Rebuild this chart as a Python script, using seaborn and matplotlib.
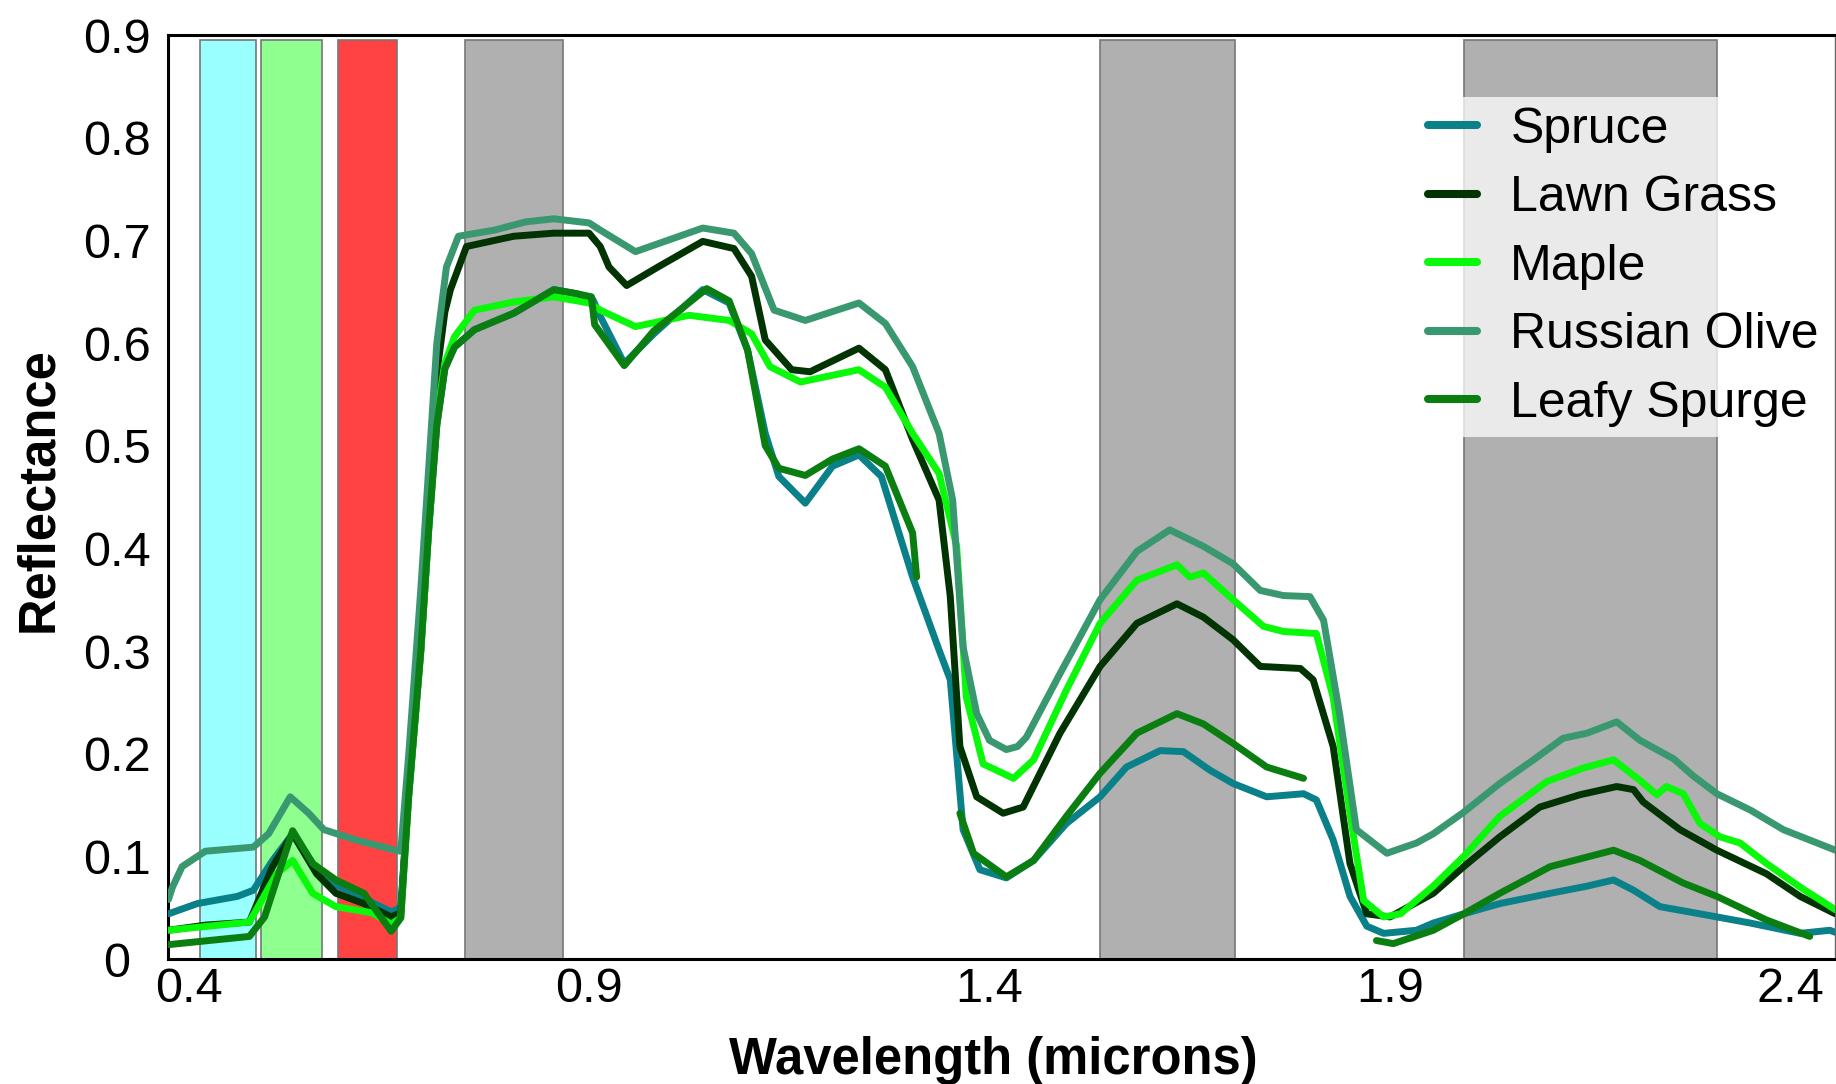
import numpy as np
import pandas as pd
import matplotlib
matplotlib.use("Agg")
import matplotlib.pyplot as plt
import seaborn as sns

# Spektren (Wellenlaenge in Mikrometer, Reflexion)
species = ["Spruce", "Lawn Grass", "Maple", "Russian Olive", "Leafy Spurge"]
colors = ["#0A8088", "#023302", "#0AF80A", "#3A9870", "#0A7E10"]

spruce_wl = [0.375, 0.411, 0.461, 0.481, 0.505, 0.530, 0.555, 0.569, 0.599, 0.624, 0.653,
             0.665, 0.675, 0.690, 0.700, 0.710, 0.720, 0.732, 0.757, 0.806, 0.856, 0.885,
             0.905, 0.914, 0.944, 0.981, 1.042, 1.075, 1.098, 1.120, 1.137, 1.170, 1.204,
             1.237, 1.265, 1.304, 1.337, 1.351, 1.367, 1.388, 1.421, 1.455, 1.496, 1.538,
             1.571, 1.613, 1.642, 1.675, 1.704, 1.746, 1.792, 1.808, 1.829, 1.850, 1.871,
             1.892, 1.933, 1.954, 1.992, 2.037, 2.100, 2.146, 2.179, 2.204, 2.237, 2.287,
             2.350, 2.412, 2.449, 2.456]
spruce_r = [0.044, 0.054, 0.061, 0.067, 0.096, 0.122, 0.093, 0.077, 0.067, 0.057, 0.046,
            0.050, 0.160, 0.300, 0.420, 0.520, 0.575, 0.596, 0.613, 0.629, 0.652, 0.648,
            0.642, 0.626, 0.580, 0.609, 0.652, 0.639, 0.593, 0.512, 0.470, 0.444, 0.480,
            0.491, 0.470, 0.372, 0.301, 0.272, 0.126, 0.087, 0.079, 0.096, 0.132, 0.158,
            0.187, 0.203, 0.202, 0.184, 0.171, 0.158, 0.161, 0.155, 0.116, 0.061, 0.032,
            0.025, 0.028, 0.035, 0.044, 0.054, 0.064, 0.071, 0.077, 0.067, 0.051, 0.044,
            0.035, 0.025, 0.028, 0.026]

lawn_wl = [0.375, 0.421, 0.476, 0.505, 0.530, 0.560, 0.584, 0.619, 0.653, 0.665, 0.675,
           0.690, 0.700, 0.710, 0.720, 0.727, 0.747, 0.806, 0.856, 0.900, 0.914, 0.925,
           0.947, 0.986, 1.042, 1.081, 1.103, 1.120, 1.153, 1.176, 1.237, 1.270, 1.304,
           1.337, 1.351, 1.363, 1.384, 1.417, 1.442, 1.488, 1.538, 1.584, 1.634, 1.667,
           1.704, 1.738, 1.788, 1.804, 1.829, 1.850, 1.871, 1.900, 1.954, 1.992, 2.037,
           2.087, 2.137, 2.183, 2.204, 2.216, 2.262, 2.308, 2.370, 2.412, 2.456]
lawn_r = [0.028, 0.033, 0.036, 0.090, 0.122, 0.083, 0.064, 0.054, 0.041, 0.045, 0.170,
          0.330, 0.460, 0.570, 0.630, 0.652, 0.694, 0.704, 0.707, 0.707, 0.694, 0.674,
          0.656, 0.674, 0.699, 0.692, 0.665, 0.603, 0.574, 0.572, 0.595, 0.574, 0.506,
          0.447, 0.353, 0.207, 0.158, 0.142, 0.148, 0.220, 0.285, 0.327, 0.346, 0.333,
          0.311, 0.285, 0.283, 0.272, 0.207, 0.093, 0.044, 0.041, 0.064, 0.090, 0.119,
          0.148, 0.160, 0.168, 0.165, 0.153, 0.126, 0.106, 0.083, 0.061, 0.044]

maple_wl = [0.375, 0.476, 0.510, 0.530, 0.555, 0.584, 0.629, 0.653, 0.665, 0.675, 0.690,
            0.700, 0.710, 0.720, 0.732, 0.757, 0.806, 0.856, 0.900, 0.914, 0.958, 1.025,
            1.075, 1.103, 1.126, 1.164, 1.237, 1.270, 1.304, 1.337, 1.359, 1.371, 1.392,
            1.430, 1.455, 1.496, 1.538, 1.584, 1.634, 1.650, 1.667, 1.704, 1.742, 1.767,
            1.808, 1.829, 1.850, 1.867, 1.892, 1.913, 1.954, 1.992, 2.037, 2.096, 2.141,
            2.179, 2.212, 2.233, 2.245, 2.266, 2.287, 2.312, 2.337, 2.370, 2.412, 2.456]
maple_r = [0.028, 0.036, 0.083, 0.096, 0.064, 0.051, 0.045, 0.034, 0.040, 0.160, 0.300,
           0.420, 0.530, 0.580, 0.606, 0.632, 0.640, 0.645, 0.639, 0.632, 0.616, 0.627,
           0.622, 0.609, 0.577, 0.562, 0.574, 0.557, 0.512, 0.473, 0.402, 0.255, 0.190,
           0.176, 0.194, 0.262, 0.327, 0.369, 0.384, 0.372, 0.376, 0.350, 0.324, 0.319,
           0.317, 0.255, 0.142, 0.057, 0.041, 0.044, 0.071, 0.100, 0.139, 0.173, 0.186,
           0.194, 0.174, 0.160, 0.168, 0.161, 0.132, 0.119, 0.113, 0.093, 0.070, 0.048]

olive_wl = [0.375, 0.380, 0.392, 0.421, 0.481, 0.500, 0.527, 0.550, 0.569, 0.609, 0.658,
            0.665, 0.675, 0.690, 0.700, 0.710, 0.722, 0.737, 0.782, 0.821, 0.856, 0.900,
            0.914, 0.958, 1.042, 1.081, 1.103, 1.131, 1.170, 1.237, 1.270, 1.304, 1.337,
            1.354, 1.367, 1.384, 1.400, 1.421, 1.435, 1.446, 1.488, 1.538, 1.584, 1.625,
            1.667, 1.704, 1.738, 1.767, 1.800, 1.817, 1.837, 1.858, 1.896, 1.933, 1.954,
            1.992, 2.037, 2.079, 2.116, 2.146, 2.183, 2.212, 2.254, 2.279, 2.308, 2.350,
            2.391, 2.456]
olive_r = [0.058, 0.070, 0.090, 0.105, 0.109, 0.122, 0.158, 0.142, 0.126, 0.116, 0.106,
           0.105, 0.200, 0.360, 0.480, 0.600, 0.674, 0.704, 0.710, 0.718, 0.721, 0.717,
           0.710, 0.689, 0.712, 0.707, 0.687, 0.632, 0.622, 0.639, 0.619, 0.577, 0.512,
           0.447, 0.304, 0.239, 0.213, 0.204, 0.207, 0.216, 0.278, 0.350, 0.397, 0.418,
           0.402, 0.385, 0.359, 0.354, 0.353, 0.330, 0.239, 0.126, 0.103, 0.113, 0.122,
           0.143, 0.171, 0.194, 0.215, 0.220, 0.231, 0.213, 0.195, 0.178, 0.161, 0.145,
           0.126, 0.106]

# Leafy Spurge hat Luecken (nan trennt die Abschnitte)
spurge_wl = [0.375, 0.476, 0.495, 0.530, 0.555, 0.584, 0.619, 0.653, 0.665, 0.675, 0.690,
             0.700, 0.710, 0.720, 0.732, 0.757, 0.806, 0.856, 0.885, 0.903, 0.907, 0.944,
             0.981, 1.047, 1.075, 1.098, 1.120, 1.137, 1.170, 1.204, 1.237, 1.270, 1.304,
             1.309, np.nan,
             1.363, 1.380, 1.421, 1.455, 1.496, 1.538, 1.584, 1.634, 1.667, 1.704, 1.746,
             1.792, np.nan,
             1.883, 1.904, 1.954, 1.992, 2.037, 2.100, 2.179, 2.212, 2.266, 2.308, 2.370,
             2.424]
spurge_r = [0.014, 0.022, 0.041, 0.125, 0.093, 0.077, 0.064, 0.027, 0.040, 0.160, 0.300,
            0.420, 0.520, 0.575, 0.596, 0.613, 0.629, 0.652, 0.648, 0.645, 0.618, 0.578,
            0.612, 0.653, 0.641, 0.593, 0.500, 0.478, 0.471, 0.487, 0.497, 0.480, 0.415,
            0.372, np.nan,
            0.142, 0.103, 0.080, 0.096, 0.139, 0.181, 0.220, 0.239, 0.229, 0.210, 0.187,
            0.176, np.nan,
            0.018, 0.015, 0.028, 0.044, 0.064, 0.090, 0.106, 0.096, 0.074, 0.061, 0.038,
            0.022]

# Spektralbaender im Hintergrund
band_lo = [0.414, 0.4905, 0.587, 0.745, 1.538, 1.992]
band_hi = [0.4845, 0.567, 0.660, 0.868, 1.706, 2.308]
band_colors = ["#99FFFF", "#8FFF8F", "#FF4242", "#B0B0B0", "#B0B0B0", "#B0B0B0"]

xticks = [0.4, 0.9, 1.4, 1.9, 2.4]
yticks = [0, 0.1, 0.2, 0.3, 0.4, 0.5, 0.6, 0.7, 0.8, 0.9]
ytick_labels = ["0", "0.1", "0.2", "0.3", "0.4", "0.5", "0.6", "0.7", "0.8", "0.9"]


def build_frame():
    rows = []
    series = [spruce_wl, lawn_wl, maple_wl, olive_wl, spurge_wl]
    values = [spruce_r, lawn_r, maple_r, olive_r, spurge_r]
    for name, wl, r in zip(species, series, values):
        seg = 0
        for w, v in zip(wl, r):
            if np.isnan(w):
                seg += 1
                continue
            rows.append((name, f"{name}-{seg}", w, v))
    return pd.DataFrame(rows, columns=["species", "segment", "wavelength", "reflectance"])


df = build_frame()

sns.set_style("white")
plt.rcParams["font.family"] = ["Liberation Sans", "DejaVu Sans"]
plt.rcParams["text.color"] = "black"
plt.rcParams["axes.labelcolor"] = "black"

fig = plt.figure(figsize=(18.36, 10.84), dpi=100)
ax = fig.add_axes([0.0915, 0.1153, 0.9080, 0.8524])

for lo, hi, c in zip(band_lo, band_hi, band_colors):
    ax.axvspan(lo, hi, ymin=0, ymax=0.995, facecolor=c, edgecolor="#777777", lw=1.2, zorder=0)

sns.lineplot(data=df, x="wavelength", y="reflectance", hue="species", hue_order=species,
             units="segment", estimator=None, sort=False,
             palette=dict(zip(species, colors)), linewidth=5, ax=ax, zorder=3)

ax.set_xlim(0.3744, 2.4556)
ax.set_ylim(0, 0.9)
ax.set_xticks(xticks)
ax.set_xticklabels([str(t) for t in xticks])
ax.set_yticks(yticks)
ax.set_yticklabels(ytick_labels)
ax.tick_params(axis="both", length=0, labelsize=35, colors="black")
ax.tick_params(axis="x", pad=5.6)
ax.tick_params(axis="y", pad=36.7)
for lbl in ax.get_yticklabels():
    lbl.set_horizontalalignment("center")

ax.set_xlabel("Wavelength (microns)", fontsize=36.5, fontweight="bold", color="black")
ax.set_ylabel("Reflectance", fontsize=36.5, fontweight="bold", color="black")
ax.xaxis.set_label_coords(0.495, -0.0835)
ax.yaxis.set_label_coords(-0.063, 0.508)

for side in ["left", "bottom", "top"]:
    ax.spines[side].set_color("black")
    ax.spines[side].set_linewidth(2.2)
ax.spines["right"].set_color("#666666")
ax.spines["right"].set_linewidth(1)

sns.move_legend(ax, "upper left", bbox_to_anchor=(0.750, 0.933), title=None,
                frameon=True, framealpha=0.75, facecolor="white", edgecolor="none",
                fancybox=False, fontsize=36, handlelength=0.98, handletextpad=0.66,
                labelspacing=0.45, borderpad=0.2, borderaxespad=0, labelcolor="black")
for line in ax.get_legend().get_lines():
    line.set_linewidth(5.8)

fig.savefig("out.png", dpi=100)
